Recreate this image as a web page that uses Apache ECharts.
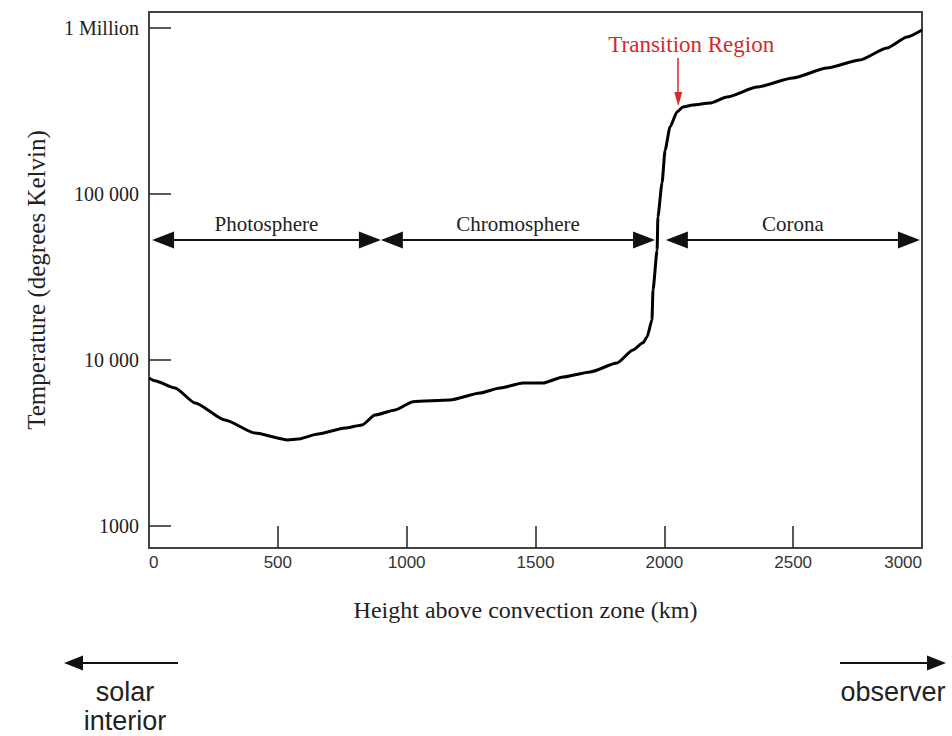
<!DOCTYPE html>
<html>
<head>
<meta charset="utf-8">
<script src="https://cdn.jsdelivr.net/npm/echarts@6/dist/echarts.min.js"></script>
<style>
  html, body { margin: 0; padding: 0; background: #fff; }
  #chart { width: 952px; height: 736px; }
</style>
</head>
<body>
<div id="chart"></div>
<script>
// ---- Data ----
const heightKm = [0, 23, 101, 179, 295, 411, 539, 578, 656, 761,
  827, 877, 955, 1025, 1168, 1285, 1362, 1451, 1529, 1607,
  1712, 1816, 1878, 1917, 1933, 1952, 1956, 1972, 1975, 1991,
  2003, 2022, 2049, 2072, 2111, 2177, 2243, 2360, 2499, 2631,
  2759, 2864, 2942, 3000];
const temperatureK = [7800, 7500, 6780, 5510, 4350, 3630, 3300, 3340, 3580, 3890,
  4060, 4660, 5000, 5610, 5740, 6330, 6780, 7270, 7270, 7900,
  8470, 9590, 11500, 12700, 13760, 17400, 26400, 46000, 72700, 116500,
  184000, 253000, 312000, 334000, 344000, 353000, 384000, 441000, 500000, 574000,
  642000, 758000, 883000, 973000];

const xTickValues = [500, 1000, 1500, 2000, 2500];
const xLabelValues = [0, 500, 1000, 1500, 2000, 2500, 3000];
const yTickValues = [1000, 10000, 100000, 1000000];
const yTickLabels = ['1000', '10 000', '100 000', '1 Million'];

const regionNames = ['Photosphere', 'Chromosphere', 'Corona'];
const regionStartKm = [12, 900, 2006];
const regionEndKm = [900, 1964, 2992];
const regionArrowTempK = 52800;

const transitionLabel = 'Transition Region';
const transitionKm = 2054;
const transitionArrowTopK = 659000;
const transitionArrowEndK = 373500;

const xAxisTitle = 'Height above convection zone (km)';
const yAxisTitle = 'Temperature (degrees Kelvin)';
const leftNote = ['solar', 'interior'];
const rightNote = 'observer';

// ---- Layout / style ----
const SERIF = "'Liberation Serif', 'DejaVu Serif', serif";
const SANS = "'Liberation Sans', 'DejaVu Sans', Arial, sans-serif";
const gridLeft = 149, gridRight = 30, gridTop = 12, gridBottom = 188;
const plotWidth = 952 - gridLeft - gridRight;
const xMin = 0, xMax = 3000;
const kmPerPx = (xMax - xMin) / plotWidth;
const headLen = 22, headW = 17;
const inset = (headLen / 2) * kmPerPx;

const regionLines = regionNames.map((name, i) => [
  { name: name, coord: [regionStartKm[i] + inset, regionArrowTempK], symbol: 'triangle', symbolSize: [headW, headLen] },
  { coord: [regionEndKm[i] - inset, regionArrowTempK], symbol: 'triangle', symbolSize: [headW, headLen] }
]);

const transitionLine = [
  { name: transitionLabel, coord: [transitionKm, transitionArrowTopK], symbol: 'none',
    lineStyle: { color: '#d42a2a', width: 1.5, type: 'solid' },
    label: { show: true, position: 'start', distance: 2, formatter: '{b}', color: '#d42a2a',
      fontFamily: SERIF, fontSize: 23, padding: [0, 0, 0, 26] } },
  { coord: [transitionKm, transitionArrowEndK], symbol: 'triangle', symbolSize: [8, 14] }
];

const chart = echarts.init(document.getElementById('chart'), null, { renderer: 'svg', width: 952, height: 736 });

const option = {
  animation: false,
  backgroundColor: '#ffffff',
  grid: { left: gridLeft, right: gridRight, top: gridTop, bottom: gridBottom,
    show: true, borderColor: '#444', borderWidth: 2, backgroundColor: 'transparent' },
  xAxis: {
    type: 'value', min: xMin, max: xMax, interval: 500,
    name: xAxisTitle, nameLocation: 'middle', nameGap: 50,
    nameTextStyle: { fontFamily: SERIF, fontSize: 24, color: '#222', padding: [0, 20, 0, 0] },
    axisLine: { show: true, onZero: false, lineStyle: { color: '#444', width: 2 } },
    axisTick: { show: true, inside: true, length: 22, customValues: xTickValues, lineStyle: { color: '#222', width: 1.5 } },
    axisLabel: { show: true, customValues: xLabelValues, fontFamily: SANS, fontSize: 17, color: '#333', margin: 6,
      alignMinLabel: 'left', alignMaxLabel: 'right', formatter: function (v) { return String(v); } },
    splitLine: { show: false }
  },
  yAxis: {
    type: 'log', logBase: 10, min: 737, max: 1248700,
    name: yAxisTitle, nameLocation: 'middle', nameGap: 100, nameRotate: 90,
    nameTextStyle: { fontFamily: SERIF, fontSize: 25, color: '#222' },
    axisLine: { show: true, lineStyle: { color: '#444', width: 2 } },
    axisTick: { show: true, inside: true, length: 22, customValues: yTickValues, lineStyle: { color: '#222', width: 1.5 } },
    axisLabel: { show: true, customValues: yTickValues, fontFamily: SERIF, fontSize: 20, color: '#222', margin: 10,
      formatter: function (v) {
        for (let i = 0; i < yTickValues.length; i++) {
          if (Math.abs(v - yTickValues[i]) / yTickValues[i] < 1e-6) return yTickLabels[i];
        }
        return '';
      } },
    splitLine: { show: false }
  },
  series: [{
    type: 'line',
    data: heightKm.map((h, i) => [h, temperatureK[i]]),
    showSymbol: false,
    smooth: 0.2,
    smoothMonotone: 'x',
    lineStyle: { color: '#000', width: 3 },
    itemStyle: { color: '#000' },
    silent: true,
    markLine: {
      silent: true,
      animation: false,
      lineStyle: { color: '#111', width: 2, type: 'solid' },
      label: { show: true, position: 'insideMiddleTop', distance: 6, formatter: '{b}',
        fontFamily: SERIF, fontSize: 21, color: '#222' },
      emphasis: { disabled: true },
      data: regionLines.concat([transitionLine])
    }
  }],
  graphic: [
    { type: 'line', shape: { x1: 178, y1: 663, x2: 80, y2: 663 }, style: { stroke: '#111', lineWidth: 2 } },
    { type: 'polygon', shape: { points: [[64, 663], [83, 655.5], [83, 670.5]] }, style: { fill: '#111' } },
    { type: 'line', shape: { x1: 840, y1: 663, x2: 930, y2: 663 }, style: { stroke: '#111', lineWidth: 2 } },
    { type: 'polygon', shape: { points: [[946, 663], [927, 655.5], [927, 670.5]] }, style: { fill: '#111' } },
    { type: 'text', x: 125, y: 692, style: { text: leftNote[0], font: '27px ' + SANS, fill: '#222', textAlign: 'center', textVerticalAlign: 'middle' } },
    { type: 'text', x: 125, y: 721, style: { text: leftNote[1], font: '27px ' + SANS, fill: '#222', textAlign: 'center', textVerticalAlign: 'middle' } },
    { type: 'text', x: 893, y: 692, style: { text: rightNote, font: '27px ' + SANS, fill: '#222', textAlign: 'center', textVerticalAlign: 'middle' } }
  ]
};

chart.setOption(option);
</script>
</body>
</html>
